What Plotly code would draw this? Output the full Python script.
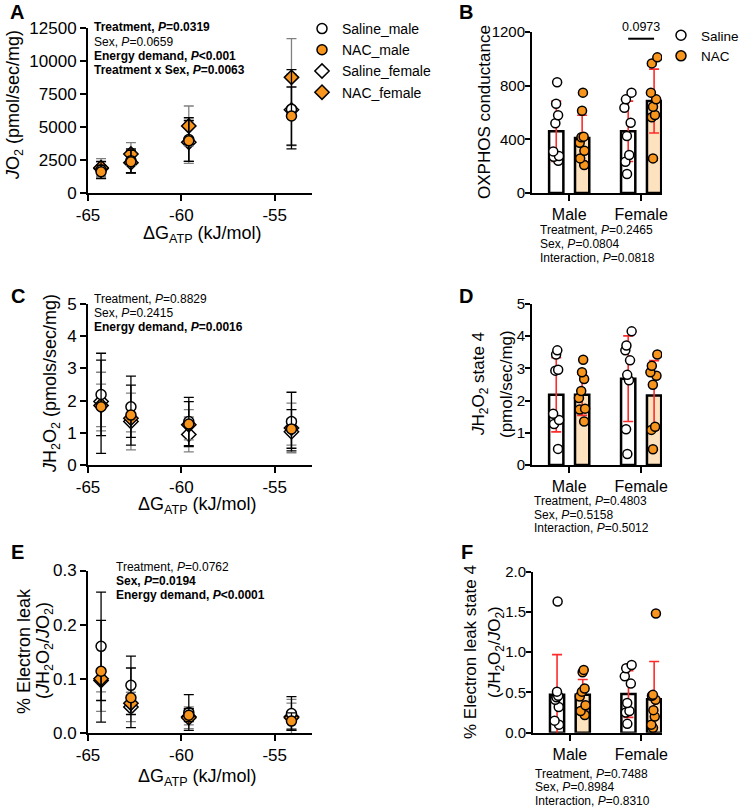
import numpy as np
import plotly.graph_objects as go

# ---------------- data ----------------
dg_atp = [-64.3, -62.7, -59.6, -54.1]
dg_ticks = [-65, -60, -55]
dg_ticktext = ["-65", "-60", "-55"]

# Panel A: JO2 (pmol/sec/mg), mean and SD
jo2_saline_male = [1750, 2450, 4050, 6350]
jo2_saline_male_sd = [650, 900, 1650, 3000]
jo2_nac_male = [1610, 2370, 3950, 5830]
jo2_nac_male_sd = [500, 870, 1550, 2200]
jo2_saline_female = [1850, 2300, 3850, 6300]
jo2_saline_female_sd = [500, 800, 1600, 2700]
jo2_nac_female = [1920, 2950, 5080, 8760]
jo2_nac_female_sd = [680, 860, 1510, 2930]

# Panel C: JH2O2 (pmols/sec/mg)
jh_saline_male = [2.19, 1.81, 1.35, 1.35]
jh_saline_male_sd = [1.28, 0.95, 0.75, 0.91]
jh_nac_male = [1.81, 1.55, 1.27, 1.12]
jh_nac_male_sd = [1.45, 0.93, 0.70, 0.60]
jh_saline_female = [1.97, 1.35, 0.95, 1.03]
jh_saline_female_sd = [0.91, 0.88, 0.54, 0.41]
jh_nac_female = [1.85, 1.45, 1.25, 1.15]
jh_nac_female_sd = [0.66, 0.42, 0.47, 0.77]

# Panel E: % electron leak
leak_saline_male = [0.160, 0.088, 0.038, 0.036]
leak_saline_male_sd = [0.100, 0.054, 0.033, 0.031]
leak_nac_male = [0.114, 0.065, 0.033, 0.022]
leak_nac_male_sd = [0.094, 0.055, 0.012, 0.015]
leak_saline_female = [0.097, 0.048, 0.030, 0.030]
leak_saline_female_sd = [0.021, 0.027, 0.015, 0.025]
leak_nac_female = [0.100, 0.055, 0.028, 0.028]
leak_nac_female_sd = [0.060, 0.020, 0.020, 0.034]

sexes = ["Male", "Female"]

# Panel B: OXPHOS conductance
oxphos_saline_male = [825, 665, 580, 520, 310, 275, 270, 240]
oxphos_nac_male = [748, 613, 415, 420, 375, 315, 258, 209]
oxphos_saline_female = [748, 698, 636, 524, 425, 283, 233, 142]
oxphos_nac_female = [1011, 966, 748, 698, 643, 581, 564, 258]
oxphos_saline_mean = [460, 460]
oxphos_saline_sd = [225, 225]
oxphos_nac_mean = [410, 685]
oxphos_nac_sd = [170, 238]

# Panel D: JH2O2 state 4
jhs4_saline_male = [3.56, 3.43, 2.96, 2.93, 1.59, 1.40, 1.27, 0.50]
jhs4_nac_male = [3.27, 2.88, 2.67, 2.30, 2.08, 1.75, 1.72, 1.35]
jhs4_saline_female = [4.15, 3.71, 3.56, 3.25, 2.80, 2.63, 1.11, 0.34]
jhs4_nac_female = [3.43, 3.08, 2.88, 2.77, 2.49, 1.19, 1.09, 0.49]
jhs4_saline_mean = [2.18, 2.68]
jhs4_saline_sd = [1.15, 1.33]
jhs4_nac_mean = [2.18, 2.16]
jhs4_nac_sd = [0.64, 1.08]

# Panel F: % electron leak state 4
leaks4_saline_male = [1.63, 0.51, 0.46, 0.44, 0.41, 0.32, 0.15, 0.10]
leaks4_nac_male = [0.78, 0.75, 0.55, 0.51, 0.45, 0.34, 0.27, 0.22]
leaks4_saline_female = [0.84, 0.80, 0.70, 0.61, 0.37, 0.27, 0.25, 0.11]
leaks4_nac_female = [1.48, 0.47, 0.46, 0.41, 0.28, 0.20, 0.10, 0.06]
leaks4_saline_mean = [0.47, 0.48]
leaks4_saline_sd = [0.50, 0.29]
leaks4_nac_mean = [0.47, 0.415]
leaks4_nac_sd = [0.19, 0.47]

# ---------------- style ----------------
FONT = "Liberation Sans, Arial, Helvetica, sans-serif"
ORANGE = "#F7951D"
LIGHT_ORANGE = "#FDE2C0"
RED = "#FF2B2B"
GREY = "#808080"
W, H = 740, 808
BARGAP = 0.28
GROUPGAP = 0.45


def px(x):
    return x / W


def py(y):
    return 1 - y / H


fig = go.Figure()


def scatter_panel(xa, ya, series, show_legend):
    for name, sym, fill, ecol, vals, sd, rank in series:
        fig.add_trace(go.Scatter(
            x=dg_atp, y=vals, mode="markers", name=name,
            marker=dict(symbol=sym, size=11 if sym == "diamond" else 10,
                        color=fill, line=dict(color="black", width=1.5)),
            error_y=dict(type="data", array=sd, visible=True, color=ecol,
                         thickness=1.3, width=5),
            xaxis=xa, yaxis=ya, showlegend=show_legend, legendgroup=name,
            legendrank=rank, cliponaxis=False))


scatter_panel("x", "y", [
    ("Saline_female", "diamond", "white", GREY, jo2_saline_female, jo2_saline_female_sd, 3),
    ("NAC_female", "diamond", ORANGE, GREY, jo2_nac_female, jo2_nac_female_sd, 4),
    ("Saline_male", "circle", "white", "black", jo2_saline_male, jo2_saline_male_sd, 1),
    ("NAC_male", "circle", ORANGE, "black", jo2_nac_male, jo2_nac_male_sd, 2),
], True)
scatter_panel("x3", "y3", [
    ("Saline_female", "diamond", "white", GREY, jh_saline_female, jh_saline_female_sd, 3),
    ("NAC_female", "diamond", ORANGE, GREY, jh_nac_female, jh_nac_female_sd, 4),
    ("Saline_male", "circle", "white", "black", jh_saline_male, jh_saline_male_sd, 1),
    ("NAC_male", "circle", ORANGE, "black", jh_nac_male, jh_nac_male_sd, 2),
], False)
scatter_panel("x5", "y5", [
    ("Saline_female", "diamond", "white", GREY, leak_saline_female, leak_saline_female_sd, 3),
    ("NAC_female", "diamond", ORANGE, GREY, leak_nac_female, leak_nac_female_sd, 4),
    ("Saline_male", "circle", "white", "black", leak_saline_male, leak_saline_male_sd, 1),
    ("NAC_male", "circle", ORANGE, "black", leak_nac_male, leak_nac_male_sd, 2),
], False)


def bar_panel(xa, ya, s_mean, s_sd, n_mean, n_sd, s_m, s_f, n_m, n_f):
    idx = list(range(len(sexes)))
    for mean, sd, fill, grp in [(s_mean, s_sd, "white", "s"), (n_mean, n_sd, LIGHT_ORANGE, "n")]:
        fig.add_trace(go.Bar(
            x=idx, y=mean, offsetgroup=grp,
            marker=dict(color=fill, line=dict(color="black", width=2.5)),
            error_y=dict(type="data", array=sd, visible=True, color=RED,
                         thickness=1.6, width=5),
            xaxis=xa, yaxis=ya, showlegend=False, hoverinfo="y"))
    for pm, pf, fill, grp in [(s_m, s_f, "white", "s"), (n_m, n_f, ORANGE, "n")]:
        fig.add_trace(go.Box(
            x=[idx[0]] * len(pm) + [idx[1]] * len(pf), y=pm + pf,
            offsetgroup=grp, boxpoints="all", jitter=0.55, pointpos=0,
            fillcolor="rgba(0,0,0,0)", line=dict(width=0, color="rgba(0,0,0,0)"),
            marker=dict(symbol="circle", size=9, color=fill,
                        line=dict(color="black", width=1.5)),
            xaxis=xa, yaxis=ya, showlegend=False, hoverinfo="y"))


bar_panel("x2", "y2", oxphos_saline_mean, oxphos_saline_sd, oxphos_nac_mean, oxphos_nac_sd,
          oxphos_saline_male, oxphos_saline_female, oxphos_nac_male, oxphos_nac_female)
bar_panel("x4", "y4", jhs4_saline_mean, jhs4_saline_sd, jhs4_nac_mean, jhs4_nac_sd,
          jhs4_saline_male, jhs4_saline_female, jhs4_nac_male, jhs4_nac_female)
bar_panel("x6", "y6", leaks4_saline_mean, leaks4_saline_sd, leaks4_nac_mean, leaks4_nac_sd,
          leaks4_saline_male, leaks4_saline_female, leaks4_nac_male, leaks4_nac_female)

# legend entries for panel B
for name, fill in [("Saline", "white"), ("NAC", ORANGE)]:
    fig.add_trace(go.Scatter(
        x=[None], y=[None], mode="markers", name=name,
        marker=dict(symbol="circle", size=10, color=fill, line=dict(color="black", width=1.5)),
        xaxis="x2", yaxis="y2", legend="legend2", showlegend=True))


def axis(domain, rng, anchor, fsize, **kw):
    d = dict(domain=domain, range=rng, anchor=anchor, showline=True, linecolor="black",
             linewidth=2, ticks="outside", ticklen=6, tickwidth=2, tickcolor="black",
             showgrid=False, zeroline=False, fixedrange=True, automargin=False,
             tickfont=dict(size=fsize, color="black", family=FONT))
    d.update(kw)
    return d


xl = [px(88), px(312)]
xr = [px(532), px(662)]
yA = [py(193), py(28)]
yB = [py(193), py(32)]
yC = [py(465), py(304)]
yE = [py(733), py(570.5)]
yF = [py(732.7), py(571.7)]
xrng_bar = [-0.517, 1.29]
small = dict(ticklen=5, ticklabelstandoff=-3)

layout = dict(
    template="none",
    width=W, height=H, margin=dict(l=0, r=0, t=0, b=0, pad=0, autoexpand=False),
    paper_bgcolor="white", plot_bgcolor="white",
    font=dict(family=FONT, color="black"),
    barmode="group", bargap=BARGAP, bargroupgap=GROUPGAP,
    boxmode="group", boxgap=BARGAP, boxgroupgap=GROUPGAP,
    xaxis=axis(xl, [-65, -53], "y", 17, tickvals=dg_ticks, ticktext=dg_ticktext),
    yaxis=axis(yA, [0, 12500], "x", 17, dtick=2500, tickformat="d"),
    xaxis3=axis(xl, [-65, -53], "y3", 17, tickvals=dg_ticks, ticktext=dg_ticktext),
    yaxis3=axis(yC, [0, 5], "x3", 17, dtick=1),
    xaxis5=axis(xl, [-65, -53], "y5", 17, tickvals=dg_ticks, ticktext=dg_ticktext),
    yaxis5=axis(yE, [0, 0.3], "x5", 17, dtick=0.1, tickformat=".1f"),
    xaxis2=axis(xr, xrng_bar, "y2", 16, tickvals=[0, 1], ticktext=sexes),
    yaxis2=axis(yB, [0, 1200], "x2", 15, dtick=400, **small),
    xaxis4=axis(xr, xrng_bar, "y4", 16, tickvals=[0, 1], ticktext=sexes),
    yaxis4=axis(yC, [0, 5], "x4", 15, dtick=1, **small),
    xaxis6=axis([px(533), px(662)], xrng_bar, "y6", 16, tickvals=[0, 1], ticktext=sexes),
    yaxis6=axis(yF, [0, 2], "x6", 15, dtick=0.5, tickformat=".1f", **small),
    legend=dict(x=px(302), y=py(13), xanchor="left", yanchor="top",
                font=dict(size=14, family=FONT), bgcolor="rgba(0,0,0,0)",
                tracegroupgap=3, traceorder="normal"),
    legend2=dict(x=px(661), y=py(20), xanchor="left", yanchor="top",
                 font=dict(size=13.5, family=FONT), bgcolor="rgba(0,0,0,0)"),
)
fig.update_layout(**layout)

ann = []


def text(x, y, t, size=12, xanchor="left", angle=0):
    ann.append(dict(x=px(x), y=py(y), xref="paper", yref="paper", text=t,
                    showarrow=False, xanchor=xanchor, yanchor="middle",
                    textangle=angle, font=dict(size=size, family=FONT, color="black")))


# panel letters
for lt, x, y in [("A", 8, 12), ("B", 457, 12), ("C", 9, 296), ("D", 457, 296),
                 ("E", 9, 552), ("F", 459, 552)]:
    text(x, y, "<b>%s</b>" % lt, size=20)

# stats text
for i, t in enumerate(["<b>Treatment, <i>P</i>=0.0319</b>", "Sex, <i>P</i>=0.0659",
                       "<b>Energy demand, <i>P</i>&lt;0.001</b>",
                       "<b>Treatment x Sex, <i>P</i>=0.0063</b>"]):
    text(92, 27.5 + 14.2 * i, t)
for i, t in enumerate(["Treatment, <i>P</i>=0.8829", "Sex, <i>P</i>=0.2415",
                       "<b>Energy demand, <i>P</i>=0.0016</b>"]):
    text(92, 298.5 + 14.2 * i, t)
for i, t in enumerate(["Treatment, <i>P</i>=0.0762", "<b>Sex, <i>P</i>=0.0194</b>",
                       "<b>Energy demand, <i>P</i>&lt;0.0001</b>"]):
    text(114, 567 + 14.2 * i, t)
for i, t in enumerate(["Treatment, <i>P</i>=0.2465", "Sex, <i>P</i>=0.0804",
                       "Interaction, <i>P</i>=0.0818"]):
    text(538, 230 + 14 * i, t)
for i, t in enumerate(["Treatment, <i>P</i>=0.4803", "Sex, <i>P</i>=0.5158",
                       "Interaction, <i>P</i>=0.5012"]):
    text(532, 501 + 13.7 * i, t)
for i, t in enumerate(["Treatment, <i>P</i>=0.7488", "Sex, <i>P</i>=0.8984",
                       "Interaction, <i>P</i>=0.8310"]):
    text(533, 773.5 + 13.7 * i, t)

# axis titles
xt = "ΔG<sub>ATP</sub> (kJ/mol)"
text(202, 234, xt, size=18, xanchor="center")
text(197, 505, xt, size=18, xanchor="center")
text(197, 777, xt, size=18, xanchor="center")
text(14, 105, "<i>J</i>O<sub>2</sub> (pmol/sec/mg)", size=18, xanchor="center", angle=-90)
text(51, 384, "<i>J</i>H<sub>2</sub>O<sub>2</sub> (pmols/sec/mg)", size=18, xanchor="center", angle=-90)
text(24, 651, "% Electron leak", size=18, xanchor="center", angle=-90)
text(44, 651, "(<i>J</i>H<sub>2</sub>O<sub>2</sub>/<i>J</i>O<sub>2</sub>)", size=18, xanchor="center", angle=-90)
text(484, 112, "OXPHOS conductance", size=17, xanchor="center", angle=-90)
text(480, 384, "<i>J</i>H<sub>2</sub>O<sub>2</sub> state 4", size=17, xanchor="center", angle=-90)
text(506, 384, "(pmol/sec/mg)", size=17, xanchor="center", angle=-90)
text(470, 652, "% Electron leak state 4", size=17, xanchor="center", angle=-90)
text(496, 652, "(<i>J</i>H<sub>2</sub>O<sub>2</sub>/<i>J</i>O<sub>2</sub>)", size=17, xanchor="center", angle=-90)

# significance bracket panel B (Female saline vs NAC)
half = (1 - BARGAP) / 4
sig_y = 1150
fig.add_shape(type="line", xref="x2", yref="y2", x0=1 - half, x1=1 + half,
              y0=sig_y, y1=sig_y, line=dict(color="black", width=2))
ann.append(dict(x=1, y=sig_y, xref="x2", yref="y2", text="0.0973", showarrow=False,
                xanchor="center", yanchor="bottom", yshift=3,
                font=dict(size=12.5, family=FONT, color="black")))

fig.update_layout(annotations=ann)
fig.write_html("out.html", config={"displayModeBar": False},
               post_script="document.body.style.margin='0px';"
                           "document.body.style.overflow='hidden';")
